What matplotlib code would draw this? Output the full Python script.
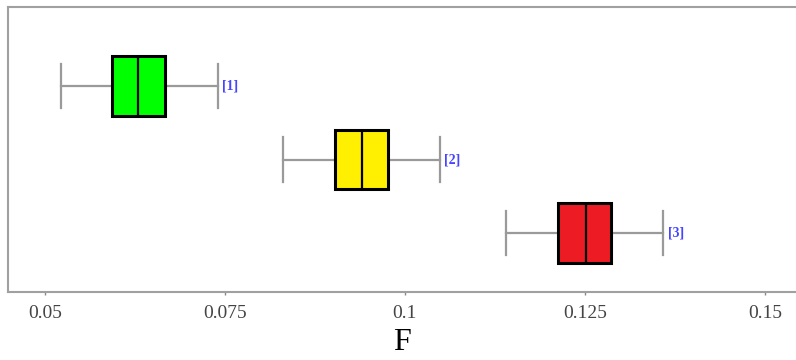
import matplotlib
matplotlib.use("Agg")
import matplotlib.pyplot as plt

# box statistics
labels = ["[1]", "[2]", "[3]"]
whislo = [0.0523, 0.0831, 0.1141]
q1 = [0.0594, 0.0903, 0.1212]
med = [0.0630, 0.0940, 0.1251]
q3 = [0.0667, 0.0977, 0.1286]
whishi = [0.0741, 0.1049, 0.1359]
colors = ["#00ff00", "#ffef00", "#ed1c24"]
ticks = [0.05, 0.075, 0.1, 0.125, 0.15]
tick_labels = ["0.05", "0.075", "0.1", "0.125", "0.15"]

plt.rcParams['font.family'] = ['Liberation Serif', 'DejaVu Serif']

fig = plt.figure(figsize=(7.96, 3.6), dpi=100)
ax = fig.add_axes([8 / 796, 68 / 360, 1 - 8 / 796, 285 / 360])

stats = []
for i in range(len(labels)):
    stats.append(dict(whislo=whislo[i], q1=q1[i], med=med[i], q3=q3[i],
                      whishi=whishi[i], fliers=[], label=labels[i]))

positions = [1, 2, 3]
bp = ax.bxp(stats, positions=positions, orientation='horizontal',
            widths=0.81, capwidths=0.6, patch_artist=True, showfliers=False,
            boxprops=dict(edgecolor='black', linewidth=2.2, zorder=3),
            medianprops=dict(color='black', linewidth=1.6, zorder=4),
            whiskerprops=dict(color='#9a9a9a', linewidth=1.6, zorder=2),
            capprops=dict(color='#9a9a9a', linewidth=1.6, zorder=2))
for patch, c in zip(bp['boxes'], colors):
    patch.set_facecolor(c)

for p, hi, lab in zip(positions, whishi, labels):
    ax.annotate(lab, xy=(hi, p), xytext=(3, 0), textcoords='offset points',
                va='center', ha='left', color='#4545ff', fontsize=10,
                fontweight='bold')

ax.set_xlim(0.0449, 0.1543)
ax.set_ylim(3.80, -0.072)
ax.set_yticks([])
ax.set_xticks(ticks)
ax.set_xticklabels(tick_labels)
ax.tick_params(axis='x', length=2, width=1, color='#888888', pad=7,
               labelsize=14, labelcolor='#444444')
for side in ['left', 'top', 'bottom']:
    ax.spines[side].set_color('#a0a0a0')
    ax.spines[side].set_linewidth(1.5)
ax.spines['right'].set_visible(False)

ax.set_xlabel('F', fontsize=23, labelpad=5, color='black')

fig.savefig('out.png', dpi=100)
